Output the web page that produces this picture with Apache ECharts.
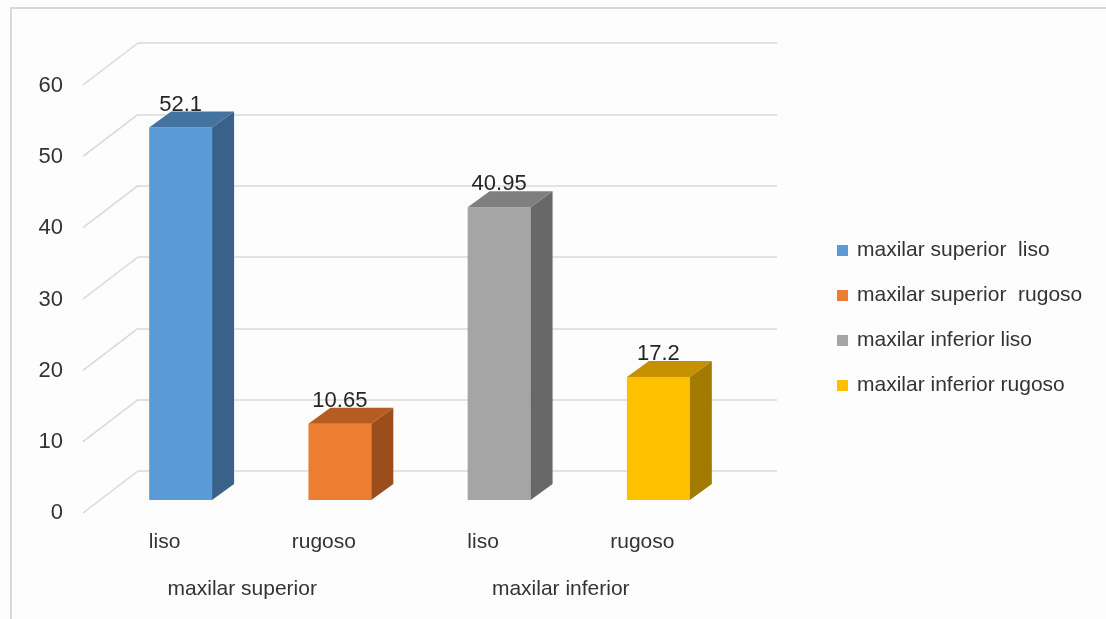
<!DOCTYPE html>
<html>
<head>
<meta charset="utf-8">
<script src="https://cdn.jsdelivr.net/npm/echarts@6/dist/echarts.min.js"></script>
<style>
  html, body { margin: 0; padding: 0; background: #fdfdfd; }
  #main { width: 1106px; height: 619px; }
</style>
</head>
<body>
<div id="main"></div>
<script>
// datos del gráfico
let categories = ['liso', 'rugoso', 'liso', 'rugoso']
let groups = ['maxilar superior', 'maxilar inferior']
let seriesNames = ['maxilar superior  liso', 'maxilar superior  rugoso', 'maxilar inferior liso', 'maxilar inferior rugoso']
let values = [52.1, 10.65, 40.95, 17.2]
let valueLabels = ['52.1', '10.65', '40.95', '17.2']
let yTicks = [0, 10, 20, 30, 40, 50, 60]

// colores: frente, lado, arriba
let palette = [
  { front: '#5b9bd5', side: '#396189', top: '#4273a1' },
  { front: '#ed7d31', side: '#9b4e1c', top: '#b55c22' },
  { front: '#a5a5a5', side: '#686868', top: '#7f7f7f' },
  { front: '#ffc000', side: '#a27a00', top: '#c49100' }
]

let font = 'Liberation Sans'
let textColor = '#333333'
let gridColor = '#d9d9d9'

let myChart = echarts.init(document.getElementById('main'))

// barra 3D dibujada con las coordenadas del eje
function renderBar(params, api) {
  let x = api.value(0)
  let v = api.value(1)
  let base = api.coord([x, 0])
  let top = api.coord([x, v])
  let w = api.size([1, 0])[0] * 0.395
  let x0 = base[0] - w / 2
  let x1 = base[0] + w / 2
  let dx = 22, dy = -16
  let c = palette[params.seriesIndex - 1]
  return {
    type: 'group',
    children: [
      { type: 'polygon', shape: { points: [[x0, top[1]], [x1, top[1]], [x1, base[1]], [x0, base[1]]] }, style: { fill: c.front } },
      { type: 'polygon', shape: { points: [[x1, top[1]], [x1 + dx, top[1] + dy], [x1 + dx, base[1] + dy], [x1, base[1]]] }, style: { fill: c.side } },
      { type: 'polygon', shape: { points: [[x0, top[1]], [x0 + dx, top[1] + dy], [x1 + dx, top[1] + dy], [x1, top[1]]] }, style: { fill: c.top } },
      {
        type: 'text',
        style: {
          text: valueLabels[params.seriesIndex - 1],
          x: base[0], y: top[1] + dy + 4,
          align: 'center', verticalAlign: 'bottom',
          font: '22px "' + font + '"', fill: '#262626'
        }
      }
    ]
  }
}

// líneas diagonales del piso/pared
function renderDiag(params, api) {
  let p = api.coord([0, api.value(0)])
  return {
    type: 'line',
    shape: { x1: p[0] - 55, y1: p[1] + 42, x2: p[0], y2: p[1] },
    style: { stroke: gridColor, lineWidth: 1.5 }
  }
}

let series = [
  {
    type: 'custom',
    xAxisIndex: 0,
    yAxisIndex: 0,
    renderItem: renderDiag,
    data: yTicks.map(t => [t]),
    silent: true
  }
]
values.forEach((v, i) => {
  series.push({
    name: seriesNames[i],
    type: 'custom',
    xAxisIndex: 2,
    yAxisIndex: 2,
    itemStyle: { color: palette[i].front },
    renderItem: renderBar,
    data: [[i, v]]
  })
})

let option = {
  backgroundColor: '#fdfdfd',
  animation: false,
  textStyle: { fontFamily: font },
  graphic: [
    {
      type: 'rect',
      shape: { x: 11, y: 8, width: 1200, height: 700 },
      style: { fill: null, stroke: gridColor, lineWidth: 2 },
      silent: true
    }
  ],
  legend: {
    orient: 'vertical',
    left: 832,
    top: 235,
    icon: 'rect',
    itemWidth: 11,
    itemHeight: 11,
    itemGap: 24,
    data: seriesNames,
    textStyle: { fontSize: 21, color: textColor, fontFamily: font, padding: [0, 0, 0, 4] }
  },
  grid: [
    { left: 138, top: 43, width: 639, height: 428 },   // pared del fondo
    { left: 83, top: 86, width: 10, height: 427 },     // etiquetas del eje y
    { left: 101, top: 71, width: 637, height: 429 }    // barras
  ],
  xAxis: [
    { type: 'value', gridIndex: 0, min: 0, max: 1, show: false },
    { type: 'value', gridIndex: 1, min: 0, max: 1, show: false },
    {
      type: 'category', gridIndex: 2, data: categories, position: 'bottom',
      axisLine: { show: false }, axisTick: { show: false },
      axisLabel: { margin: 32, fontSize: 21, color: textColor, padding: [0, 32, 0, 0] }
    },
    {
      type: 'category', gridIndex: 2, data: groups, position: 'bottom', offset: 0,
      axisLine: { show: false }, axisTick: { show: false },
      axisLabel: { margin: 79, fontSize: 21, color: textColor, padding: [0, 36, 0, 0] }
    }
  ],
  yAxis: [
    {
      type: 'value', gridIndex: 0, min: 0, max: 60, interval: 10,
      axisLine: { show: false }, axisTick: { show: false }, axisLabel: { show: false },
      splitLine: { lineStyle: { color: gridColor, width: 1.5 } }
    },
    {
      type: 'value', gridIndex: 1, min: 0, max: 60, interval: 10,
      axisLine: { show: false }, axisTick: { show: false }, splitLine: { show: false },
      axisLabel: { margin: 20, fontSize: 22, color: textColor }
    },
    {
      type: 'value', gridIndex: 2, min: 0, max: 60, interval: 10, show: false
    }
  ],
  series: series
}

myChart.setOption(option)
</script>
</body>
</html>
